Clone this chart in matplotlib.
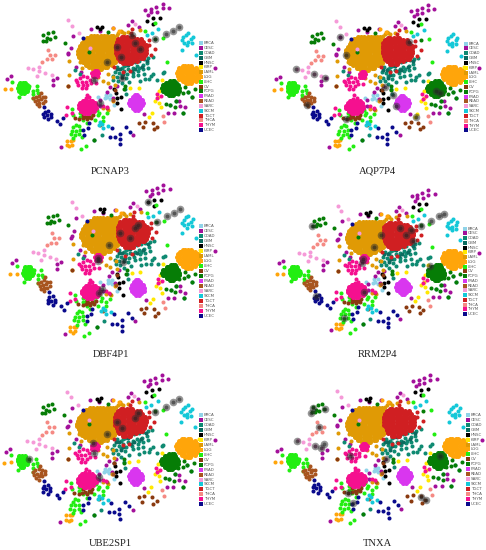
import matplotlib
matplotlib.use("Agg")
import matplotlib.pyplot as plt

GENES = ["PCNAP3", "AQP7P4", "DBF4P1", "RRM2P4", "UBE2SP1", "TNXA"]
COHORTS = ["BRCA", "CESC", "COAD", "GBM", "HNSC", "KIRP", "LAML", "LGG", "LIHC", "OV",
           "PCPG", "PRAD", "READ", "SARC", "SKCM", "TGCT", "THCA", "THYM", "UCEC"]
COLORS = ["#8fd3e8", "#a3109a", "#0f8a72", "#0b6b5f", "#000000", "#ffe800", "#e09a05", "#ffa50a", "#22ee11", "#8a3a10",
          "#067d06", "#d936ef", "#a8551f", "#f59ad8", "#14c8d8", "#d01f22", "#f58a84", "#f5108f", "#0a0a8c"]


def rows(table):
    return [(x, y) for y, xs in table.items() for x in xs]


LAML_BLOB = {
    108: [272, 282, 292, 302, 312, 322, 332, 340],
    114: [260, 266, 276, 286, 296, 306, 316, 326, 336, 343],
    122: [252, 258, 268, 278, 288, 298, 308, 318, 328, 338, 348],
    130: [246, 252, 262, 272, 282, 292, 302, 312, 322, 332, 342, 350],
    138: [240, 246, 256, 266, 276, 286, 296, 306, 316, 326, 336, 348],
    146: [236, 242, 252, 262, 272, 282, 292, 302, 312, 322, 332, 342, 348],
    154: [234, 240, 250, 260, 270, 280, 290, 300, 310, 320, 330, 340, 350],
    162: [234, 240, 250, 260, 270, 280, 290, 300, 310, 320, 330, 340, 352],
    170: [238, 246, 256, 266, 276, 286, 296, 306, 316, 326, 336, 346, 352],
    178: [243, 250, 260, 270, 280, 290, 300, 310, 320, 330, 340, 350],
    186: [248, 255, 265, 275, 285, 295, 305, 315, 325, 335, 345],
    194: [258, 265, 275, 285, 295, 305, 315, 325, 335],
    202: [268, 275, 285, 295, 305, 315, 322],
    208: [280, 288, 298, 304],
}
TGCT_BLOB = {
    112: [365, 372, 382, 392, 398],
    118: [355, 362, 372, 382, 392, 402, 412, 422],
    126: [350, 357, 367, 377, 387, 397, 407, 417, 429],
    134: [348, 355, 365, 375, 385, 395, 405, 415, 425, 437],
    142: [348, 355, 365, 375, 385, 395, 405, 415, 425, 435, 439],
    150: [348, 355, 365, 375, 385, 395, 405, 415, 425, 435, 439],
    158: [348, 355, 365, 375, 385, 395, 405, 415, 425, 435, 437],
    166: [352, 360, 370, 380, 390, 400, 410, 420, 430, 435],
    174: [355, 362, 372, 382, 392, 402, 412, 422, 429],
    182: [360, 368, 378, 388, 398, 410],
    190: [370, 378, 388, 393],
}
LGG_BLOB = {
    199: [548, 555, 565, 572],
    204: [538, 545, 555, 565, 575, 587],
    212: [533, 540, 550, 560, 570, 580, 590, 594],
    220: [530, 537, 547, 557, 567, 577, 587, 597],
    228: [533, 540, 550, 560, 570, 580, 590, 597],
    236: [538, 545, 555, 565, 575, 585, 594],
    244: [548, 555, 565, 575, 587],
    250: [558, 565, 572],
}
PCPG_BLOB = {
    242: [510, 518, 523],
    248: [498, 503, 511, 519, 528],
    256: [488, 493, 501, 509, 517, 525, 533],
    264: [485, 490, 498, 506, 514, 522, 530, 537],
    272: [488, 493, 501, 509, 517, 525, 533, 537],
    280: [498, 503, 511, 519, 528],
    286: [507, 512, 518],
}
PRAD_BLOB = {
    286: [404, 410],
    292: [398, 403, 411, 417],
    300: [391, 396, 404, 412, 420, 425],
    308: [388, 393, 401, 409, 417, 425, 429],
    316: [391, 396, 404, 412, 420, 427],
    324: [398, 403, 411, 419],
    330: [404, 413],
}
THYM_BLOB = {
    302: [248, 253, 261, 269, 277],
    308: [241, 246, 254, 262, 270, 278, 285],
    316: [236, 241, 249, 257, 265, 273, 281, 289],
    324: [236, 241, 249, 257, 265, 273, 281, 289],
    332: [243, 248, 256, 264, 272, 282],
    338: [253, 260, 268],
    214: [284, 290],
    220: [277, 282, 290, 295],
    228: [279, 284, 292],
}
LIHC_BLOB = {
    248: [60, 68, 76],
    256: [56, 64, 72, 80],
    264: [55, 63, 71, 79, 85],
    272: [58, 66, 74, 82],
    280: [64, 72],
}

BRCA = [(318, 285), (330, 285), (315, 295), (330, 298), (293, 292), (343, 316), (322, 292), (305, 320)]
CESC = [(435, 30), (453, 26), (468, 20), (453, 37), (470, 35), (488, 12), (488, 25), (507, 23), (445, 44),
        (395, 64), (417, 82), (338, 84), (273, 86), (300, 92), (218, 107), (212, 145), (205, 160), (203, 163),
        (229, 200), (20, 236), (33, 228), (172, 233), (158, 240), (158, 255), (320, 275), (330, 262), (350, 258),
        (300, 300), (338, 295), (538, 303), (540, 318), (556, 322), (522, 338), (503, 338), (646, 203), (400, 405),
        (183, 440), (433, 342), (300, 318), (243, 215), (263, 118), (385, 75)]
COAD = [(352, 200), (365, 205), (378, 195), (392, 190), (405, 185), (418, 182), (432, 178), (445, 175), (458, 172),
        (345, 215), (358, 218), (372, 212), (385, 208), (400, 205), (412, 198), (428, 195), (442, 190), (338, 228),
        (350, 232), (365, 225), (380, 222), (398, 218), (415, 212), (430, 208), (445, 203), (340, 240), (355, 242),
        (378, 235), (400, 228), (415, 225), (432, 222), (365, 250), (388, 245), (420, 243), (435, 238), (448, 238),
        (460, 222), (452, 228), (472, 240), (488, 220), (492, 216), (225, 210), (240, 222), (375, 267), (378, 282),
        (305, 405), (283, 420), (510, 315), (527, 302), (564, 275), (575, 292), (550, 338), (418, 205), (372, 198)]
GBM = [(360, 208), (385, 195), (405, 208), (425, 200), (365, 232), (440, 182), (370, 222), (395, 212), (350, 208)]
HNSC = [(292, 82), (305, 80), (300, 88), (441, 62), (459, 55), (480, 54), (458, 72), (348, 278), (350, 295),
        (363, 292), (350, 308), (363, 328), (343, 268)]
KIRP = [(390, 265), (417, 263), (487, 240), (466, 302), (478, 308), (482, 322), (455, 340), (447, 352), (483, 268),
        (476, 272), (475, 292), (600, 200)]
LAML = [(208, 182), (208, 225), (323, 222), (310, 242), (323, 248), (345, 255), (362, 92), (205, 258), (295, 232),
        (310, 325), (325, 330), (338, 302), (245, 205), (250, 170), (240, 185), (340, 230), (385, 95), (420, 90),
        (350, 105), (355, 100), (365, 95), (372, 100)]
LGG = [(14, 268), (34, 267), (200, 422), (212, 422), (200, 434), (215, 434), (208, 438), (218, 420), (340, 85), (358, 92)]
LIHC = [(35, 246), (57, 290), (88, 258), (110, 258), (112, 270), (100, 272), (115, 278), (100, 283), (100, 294),
        (240, 338), (248, 346), (256, 340), (268, 338), (280, 334), (290, 330), (298, 338), (240, 350), (250, 360),
        (262, 370), (285, 360), (295, 345), (310, 350), (322, 340), (310, 362), (215, 328), (218, 345), (228, 375),
        (220, 382), (236, 378), (215, 392), (228, 392), (240, 390), (212, 402), (225, 405), (238, 402), (220, 415),
        (245, 412), (257, 438), (243, 448), (436, 92), (465, 70), (490, 115), (500, 185), (275, 345), (268, 352)]
OV = [(250, 345), (258, 352), (268, 350), (278, 345), (248, 355), (262, 358), (274, 354), (225, 355), (238, 358),
      (205, 258), (345, 270), (418, 368), (435, 365), (428, 382), (458, 368), (472, 380), (462, 388)]
PCPG = [(130, 105), (145, 100), (158, 97), (128, 122), (140, 115), (150, 118), (165, 112), (138, 122), (194, 128),
        (268, 155), (325, 97), (375, 258), (373, 268), (283, 420), (510, 315), (527, 302), (497, 312), (564, 275),
        (575, 292), (550, 338), (525, 320), (585, 268), (555, 262), (550, 280), (535, 282), (466, 118)]
READ = [(100, 295), (108, 290), (118, 287), (128, 290), (136, 292), (105, 303), (114, 300), (124, 298), (136, 302),
        (110, 312), (118, 308), (128, 308), (118, 318), (122, 278), (340, 300), (322, 325), (300, 375)]
SARC = [(204, 60), (216, 77), (236, 100), (84, 204), (100, 208), (118, 200), (110, 228), (136, 220), (157, 226),
        (405, 72), (118, 214), (270, 143)]
SKCM = [(545, 120), (550, 112), (557, 105), (565, 100), (578, 110), (553, 128), (563, 125), (573, 118), (562, 135),
        (575, 130), (545, 150), (588, 165), (475, 88), (455, 100), (440, 105), (300, 365), (310, 385), (325, 378),
        (296, 375), (415, 125), (307, 372)]
TGCT = [(397, 88), (393, 100), (448, 135), (465, 148), (453, 165), (370, 215), (343, 200), (390, 212), (448, 120)]
THCA = [(143, 150), (150, 165), (165, 165), (140, 178), (157, 178), (127, 186), (488, 348), (493, 366)]
THYM = [(240, 235), (250, 228), (262, 232), (232, 245), (245, 245), (258, 245), (270, 240), (235, 255), (248, 256),
        (262, 256), (272, 250), (245, 265), (258, 265), (228, 240), (470, 282), (483, 288), (472, 295), (200, 322),
        (198, 345), (215, 340), (260, 285), (268, 292), (258, 295), (320, 322), (310, 318), (288, 250)]
UCEC = [(135, 335), (145, 332), (130, 342), (140, 345), (152, 342), (132, 352), (145, 358), (152, 350), (172, 362),
        (180, 372), (190, 353), (133, 320), (250, 390), (268, 370), (265, 385), (330, 412), (345, 412), (360, 402),
        (360, 418), (361, 432), (378, 382), (390, 395), (250, 115), (335, 385), (252, 405)]

POINTS = {
    "BRCA": BRCA, "CESC": CESC, "COAD": COAD, "GBM": GBM, "HNSC": HNSC, "KIRP": KIRP,
    "LAML": LAML, "LGG": LGG, "LIHC": LIHC, "OV": OV,
    "PCPG": PCPG, "PRAD": [], "READ": READ, "SARC": SARC, "SKCM": SKCM,
    "TGCT": TGCT, "THCA": THCA, "THYM": THYM, "UCEC": UCEC,
}
BLOBS = {"LAML": rows(LAML_BLOB), "LGG": rows(LGG_BLOB), "LIHC": rows(LIHC_BLOB), "PCPG": rows(PCPG_BLOB),
         "PRAD": rows(PRAD_BLOB), "TGCT": rows(TGCT_BLOB), "THYM": rows(THYM_BLOB)}

HIGHLIGHTS = [
    [(537, 82), (520, 92), (498, 103), (466, 118), (283, 240), (365, 235), (300, 310), (420, 148), (405, 130),
     (395, 105), (362, 170), (350, 140), (320, 185)],
    [(292, 110), (310, 165), (497, 125), (160, 207), (212, 223), (246, 235), (425, 262), (450, 285), (460, 318),
     (519, 350), (193, 315), (310, 358), (580, 272), (592, 278)],
    [(445, 57), (540, 78), (522, 90), (500, 100), (470, 118), (415, 125), (405, 135), (390, 165), (360, 150),
     (327, 187), (295, 235), (295, 225), (370, 238), (305, 318), (298, 330)],
    [(603, 93), (587, 100), (565, 113), (535, 128), (208, 130), (470, 135), (490, 155), (510, 175), (505, 140),
     (415, 155), (393, 193), (358, 240), (360, 228), (362, 328), (220, 340), (302, 405), (560, 250)],
    [(537, 88), (520, 97), (498, 110), (465, 126), (88, 267), (282, 250), (278, 220), (298, 320), (320, 193),
     (350, 155), (405, 145), (365, 175), (415, 130)],
    [(210, 115), (205, 128), (245, 118), (228, 170), (163, 212), (215, 228), (235, 235), (244, 222), (430, 268),
     (315, 368), (330, 400), (533, 380), (548, 390), (590, 258), (320, 258)],
]

ORIGINS = [(0, 0), (729, 0), (0, 549), (729, 549), (0, 1110), (729, 1110)]
FITS = [(1.0, 0, 1.0, 0), (0.974, 80, 0.99, 4), (0.97, 17, 1.04, -6),
        (0.96, 88, 0.98, 10), (1.0, -2, 1.027, 3), (0.986, 81, 1.02, 3)]
TITLE_POS = [(332, 513), (404, 513), (332, 515), (403, 515), (332, 522), (402, 522)]
LEGEND_POS = [(603, 130, 390), (668, 131, 391), (603, 128, 400), (665, 137, 393), (603, 135, 403), (675, 135, 401)]

fig = plt.figure(figsize=(4.86, 5.5), dpi=100)
ax = fig.add_axes([0, 0, 1, 1])
ax.set_xlim(0, 1458)
ax.set_ylim(1650, 0)
ax.axis("off")

for p, gene in enumerate(GENES):
    ox, oy = ORIGINS[p]
    sx, bx, sy, by = FITS[p]
    for cohort, color in zip(COHORTS, COLORS):
        blob = BLOBS.get(cohort, [])
        if blob:
            ax.scatter([ox + sx * x + bx for x, _ in blob], [oy + sy * y + by for _, y in blob],
                       s=13, c=color, linewidths=0, zorder=2, snap=False)
        pts = POINTS[cohort]
        if pts:
            ax.scatter([ox + sx * x + bx for x, _ in pts], [oy + sy * y + by for _, y in pts],
                       s=8.5, c=color, linewidths=0, zorder=2, snap=False)
    hx = [ox + x for x, _ in HIGHLIGHTS[p]]
    hy = [oy + y for _, y in HIGHLIGHTS[p]]
    ax.scatter(hx, hy, s=30, c="#303030", alpha=0.5, linewidths=0, zorder=3, snap=False)
    ax.scatter(hx, hy, s=8, c="#202020", alpha=0.55, linewidths=0, zorder=4, snap=False)

    lx, y0, y1 = LEGEND_POS[p]
    n = len(COHORTS)
    for i, (cohort, color) in enumerate(zip(COHORTS, COLORS)):
        ly = oy + y0 + (y1 - y0) * i / (n - 1)
        ax.scatter([ox + lx], [ly], s=5, marker="s", c=color, linewidths=0, zorder=5)
        ax.text(ox + lx + 8, ly, cohort, fontsize=2.9, color="#555555", va="center", ha="left", zorder=5)

    tx, ty = TITLE_POS[p]
    ax.text(ox + tx, oy + ty, gene, fontsize=7.6, family="Liberation Serif", color="#222222",
            ha="center", va="center", zorder=5)

fig.savefig("out.png", dpi=100)
